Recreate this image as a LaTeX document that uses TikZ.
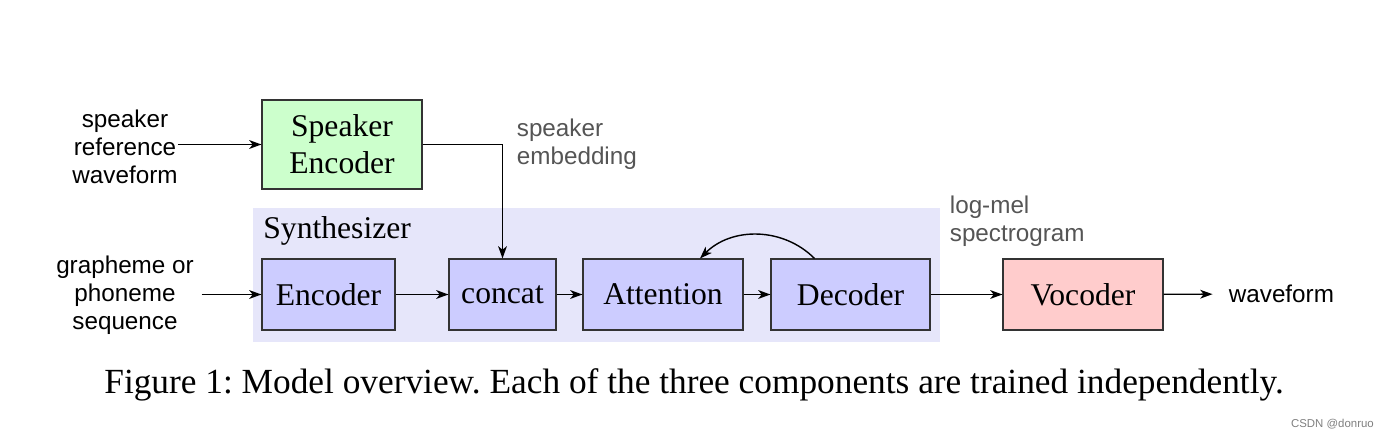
\documentclass[tikz,border=0pt]{standalone}
\usepackage{fontspec}
\setmainfont{Liberation Serif}
\newfontfamily\lsans{Liberation Sans}
\usetikzlibrary{arrows.meta,positioning}
\definecolor{boxblue}{HTML}{CCCCFF}
\definecolor{boxgreen}{HTML}{CCFFCC}
\definecolor{boxpink}{HTML}{FFCCCC}
\definecolor{synthbg}{HTML}{E6E6FA}
\definecolor{labgray}{HTML}{555555}
\frenchspacing
\begin{document}
\begin{tikzpicture}[
  blk/.style={draw=black!80, line width=0.6pt, minimum height=1.42cm, inner sep=0pt, font=\fontsize{18}{21}\selectfont, align=center},
  lab/.style={font=\lsans\fontsize{13.8}{15.8}\selectfont, align=center, inner sep=2pt},
  glab/.style={lab, text=labgray, align=left},
  conn/.style={line width=0.8pt, -{Stealth[length=7pt,width=5pt,inset=2pt]}},
]
\useasboundingbox (0,0) rectangle (27.84,8.8);
\fill[white] (0,0) rectangle (27.84,8.8);
\fill[synthbg] (5.06,1.96) rectangle (18.8,4.64);

\node[blk, fill=boxgreen, minimum width=3.2cm, minimum height=1.78cm] (spk) at (6.84,5.91) {Speaker\\Encoder};
\node[blk, fill=boxblue, minimum width=2.66cm] (enc) at (6.57,2.91) {Encoder};
\node[blk, fill=boxblue, minimum width=2.14cm] (cat) at (10.05,2.91) {concat};
\node[blk, fill=boxblue, minimum width=3.2cm] (att) at (13.26,2.91) {Attention};
\node[blk, fill=boxblue, minimum width=3.18cm] (dec) at (17.01,2.91) {Decoder};
\node[blk, fill=boxpink, minimum width=3.2cm] (voc) at (21.66,2.91) {Vocoder};

\node[lab, inner sep=0pt] (ref) at (2.5,5.86) {speaker\\reference\\waveform};
\node[lab] (gra) at (2.5,2.9) {grapheme or\\phoneme\\sequence};
\node[glab, anchor=west] (emb) at (10.26,5.92) {speaker\\embedding};
\node[font=\fontsize{18}{20}\selectfont, anchor=west, inner sep=0pt] (syn) at (5.26,4.18) {Synthesizer};
\node[glab, anchor=west] (mel) at (18.92,4.38) {log-mel\\spectrogram};
\node[lab, anchor=west] (wav) at (24.5,2.92) {waveform};

\node[font=\fontsize{20.1}{22}\selectfont] (cap) at (13.88,1.1) {Figure 1: Model overview. Each of the three components are trained independently.};
\node[font=\lsans\fontsize{6.5}{8}\selectfont, text=black!50, anchor=east] (csdn) at (27.6,0.32) {CSDN @donruo};

\coordinate (bend) at (10.05,5.91);
\draw[conn] (ref.east |- spk.west) -- (spk.west);
\draw[conn] (spk.east) -- (bend) -- (cat.north);
\draw[conn] ([xshift=0.08cm]gra.east |- enc.west) -- (enc.west);
\draw[conn] (enc) -- (cat);
\draw[conn] (cat) -- (att);
\draw[conn] (att) -- (dec);
\draw[conn] (dec) -- (voc);
\draw[conn, shorten >=0.25cm] (voc) -- (wav);
\coordinate (d1) at ([xshift=-0.72cm]dec.north);
\coordinate (a1) at ([xshift=0.74cm]att.north);
\draw[conn] (d1) to[bend right=45] (a1);
\end{tikzpicture}
\end{document}
